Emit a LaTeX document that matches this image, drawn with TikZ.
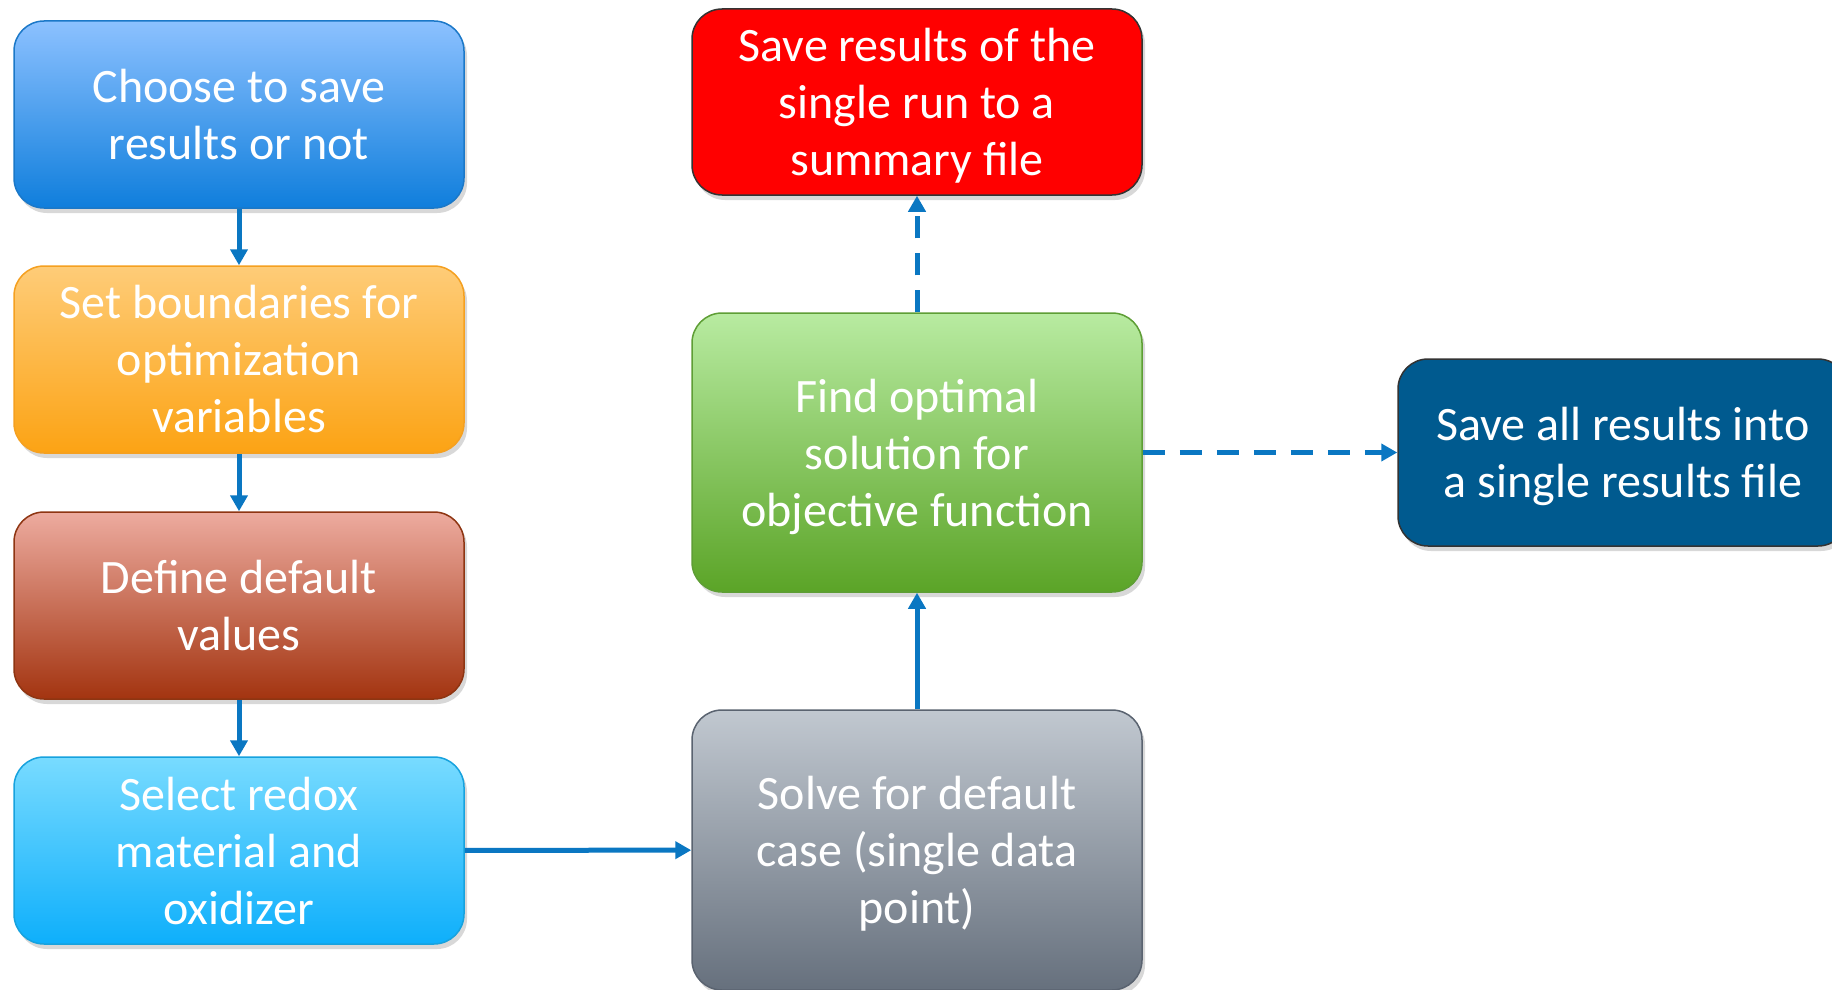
\documentclass[tikz,border=0pt]{standalone}
\usepackage{fontspec}
\setmainfont{Carlito}
\usetikzlibrary{shadows,arrows.meta}
\definecolor{arrowblue}{HTML}{0A77C2}
% box palettes: edge, top, middle, bottom
\definecolor{chooseEdge}{HTML}{1B78C8}\definecolor{chooseTop}{HTML}{8CC1FF}
\definecolor{chooseMid}{HTML}{5AA0F0}\definecolor{chooseBot}{HTML}{0F7EDC}
\definecolor{boundsEdge}{HTML}{F5A020}\definecolor{boundsTop}{HTML}{FECC78}
\definecolor{boundsMid}{HTML}{FDB84A}\definecolor{boundsBot}{HTML}{FCA314}
\definecolor{defEdge}{HTML}{8E3512}\definecolor{defTop}{HTML}{EDAB9F}
\definecolor{defMid}{HTML}{CD7F6C}\definecolor{defBot}{HTML}{A33410}
\definecolor{selEdge}{HTML}{17A2DE}\definecolor{selTop}{HTML}{78DBFF}
\definecolor{selMid}{HTML}{45C4FD}\definecolor{selBot}{HTML}{0EAFFB}
\definecolor{solveEdge}{HTML}{5A6370}\definecolor{solveTop}{HTML}{C1C8D0}
\definecolor{solveMid}{HTML}{969EA8}\definecolor{solveBot}{HTML}{66707D}
\definecolor{optEdge}{HTML}{5E9E35}\definecolor{optTop}{HTML}{B8EBA1}
\definecolor{optMid}{HTML}{87C765}\definecolor{optBot}{HTML}{5BA427}
\definecolor{darkEdge}{HTML}{333333}
\definecolor{sumFill}{HTML}{FF0000}
\definecolor{allFill}{HTML}{005A8F}
% last line without descender depth, so labels centre on their baselines
\newcommand{\flatline}[1]{\smash{#1}}
\begin{document}
\begin{tikzpicture}[x=1pt,y=-1pt,
  box/.style={rounded corners=30pt, minimum width=450pt, align=center,
    text=white, font=\fontsize{48}{57}\selectfont, line width=1.5pt,
    inner sep=0pt,
    drop shadow={opacity=0.3, shadow xshift=3pt, shadow yshift=-5pt}},
  flow/.style={draw=arrowblue, line width=5pt, -{Triangle[length=16pt,width=17pt]}},
  dflow/.style={flow, dash pattern=on 22pt off 15pt},
]
\clip (0,0) rectangle (1832,990);
\fill[white] (0,0) rectangle (1832,990);

% left column
\node[box, minimum height=187pt, draw=chooseEdge, top color=chooseTop,
  middle color=chooseMid, bottom color=chooseBot] (choose) at (239,114.5)
  {Choose to save\\results or not};
\node[box, minimum height=187pt, draw=boundsEdge, top color=boundsTop,
  middle color=boundsMid, bottom color=boundsBot] (bounds) at (239,359.5)
  {Set boundaries for\\optimization\\variables};
\node[box, minimum height=187pt, draw=defEdge, top color=defTop,
  middle color=defMid, bottom color=defBot] (defaults) at (239,605.5)
  {Define default\\values};
\node[box, minimum height=187pt, draw=selEdge, top color=selTop,
  middle color=selMid, bottom color=selBot] (select) at (239,850.5)
  {Select redox\\material and\\oxidizer};

% middle column
\node[box, minimum height=280pt, draw=solveEdge, top color=solveTop,
  middle color=solveMid, bottom color=solveBot] (solve) at (917,850)
  {Solve for default\\case (single data\\\flatline{point)}};
\node[box, minimum height=279pt, draw=optEdge, top color=optTop,
  middle color=optMid, bottom color=optBot] (optimal) at (917,452.5)
  {Find optimal\\solution for\\\flatline{objective function}};
\node[box, minimum height=186pt, draw=darkEdge, fill=sumFill] (summary) at (917,102)
  {Save results of the\\single run to a\\\flatline{summary file}};

% right column
\node[box, minimum height=187pt, draw=darkEdge, fill=allFill] (allres) at (1623,452.5)
  {Save all results into\\\flatline{a single results file}};

% connectors
\draw[flow] (choose) -- (bounds);
\draw[flow] (bounds) -- (defaults);
\draw[flow] (defaults) -- (select);
\draw[flow] (select) -- (solve);
\draw[flow] (solve) -- (optimal);
\draw[dflow] (optimal) -- (summary);
\draw[dflow] (optimal) -- (allres);
\end{tikzpicture}
\end{document}
